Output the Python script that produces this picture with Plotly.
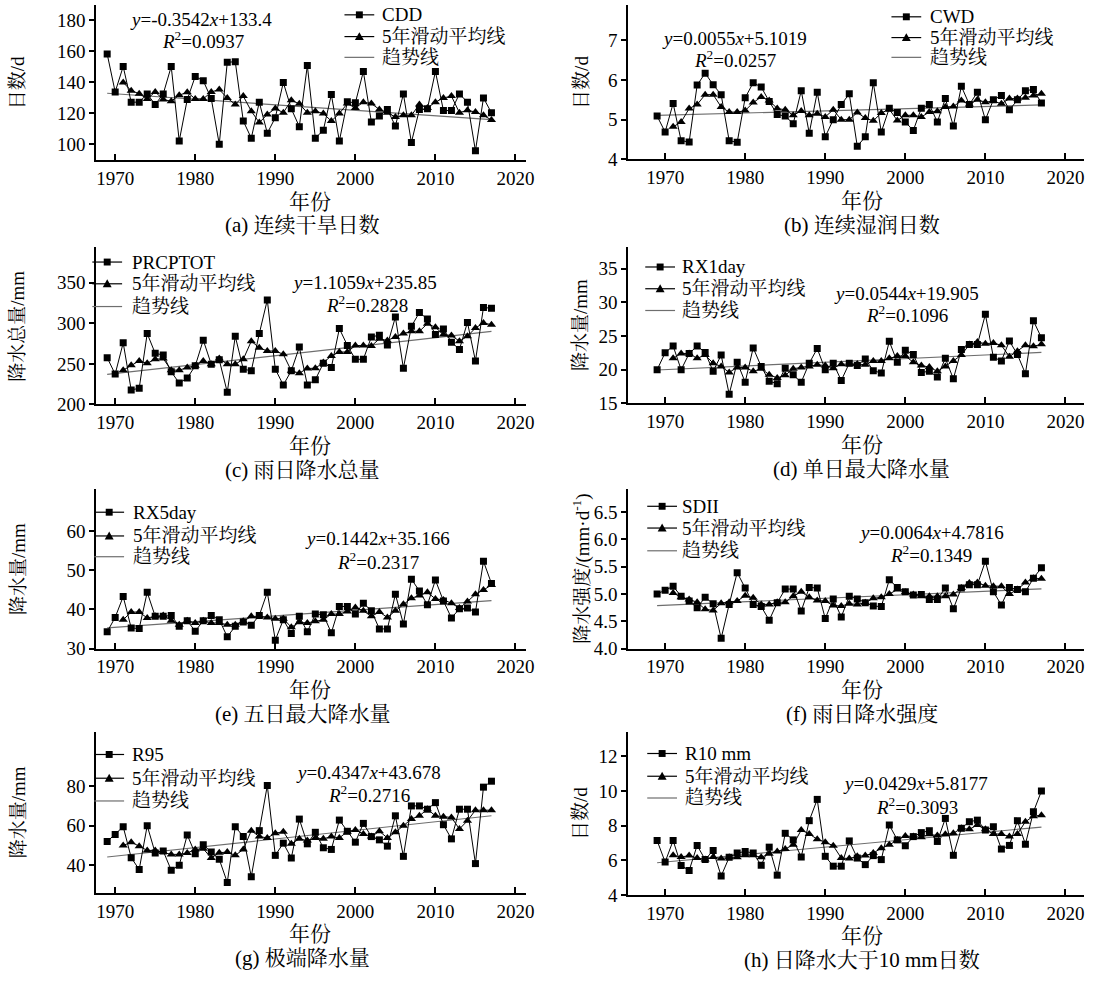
import plotly.graph_objects as go

years = list(range(1969, 2018))
ma_years = list(range(1971, 2018))
trend_years = [1969, 2017]

cdd = [158.4,133.9,150.3,127.3,127.3,132.6,125.8,132.6,150.3,102.3,129.0,143.9,141.1,129.6,100.2,153.0,153.4,115.1,104.1,127.3,107.3,117.3,140.0,123.0,111.5,150.9,104.1,109.2,132.2,102.3,127.5,126.9,147.1,114.5,118.3,122.6,111.9,132.6,101.3,122.6,123.0,147.1,121.9,121.9,132.6,127.3,95.9,130.0,120.5]
cdd_ma = [140.0,134.7,132.8,129.4,133.9,129.0,127.9,131.8,133.7,129.4,129.4,133.9,135.4,130.0,125.8,131.2,121.5,114.1,119.4,123.2,120.5,128.5,126.2,120.5,121.5,120.0,115.1,120.0,126.4,123.6,127.3,126.4,122.6,120.5,117.7,118.8,118.8,125.8,123.6,127.3,130.0,131.2,120.5,122.1,120.9,118.8,115.8]
cdd_trend = [133.05, 116.04]

cwd = [5.09,4.69,5.41,4.47,4.44,5.87,6.17,5.88,5.63,4.47,4.43,5.55,5.93,5.82,5.46,5.13,5.09,4.90,5.73,4.66,5.69,4.57,5.00,5.38,5.65,4.33,4.57,5.93,4.69,5.29,5.18,4.94,4.73,5.29,5.38,4.94,5.53,4.84,5.84,5.38,5.69,5.00,5.50,5.61,5.25,5.50,5.73,5.76,5.42]
cwd_ma = [4.82,4.94,5.28,5.38,5.63,5.63,5.32,5.19,5.19,5.23,5.43,5.57,5.48,5.28,5.25,5.11,5.22,5.11,5.15,5.07,5.25,5.00,5.00,5.18,5.04,4.97,5.17,5.26,4.98,5.11,5.11,5.07,5.19,5.21,5.32,5.33,5.48,5.38,5.50,5.44,5.47,5.40,5.53,5.53,5.55,5.61,5.65]
cwd_trend = [5.107, 5.371]

prcptot = [257.7,237.4,276.0,217.9,219.9,287.4,263.0,261.0,240.2,226.4,232.5,247.6,279.3,249.6,255.0,215.0,284.0,243.5,241.5,287.4,328.9,243.5,224.0,241.5,270.7,224.0,230.5,250.8,245.5,293.5,272.8,255.7,255.7,283.3,285.4,273.2,307.7,244.7,296.3,313.4,305.3,286.2,293.1,276.8,267.9,301.2,253.7,319.5,318.7]
prcptot_ma = [242.3,248.4,253.7,250.8,255.7,256.5,242.3,242.3,245.5,247.6,253.7,249.6,256.5,249.6,249.6,255.7,278.0,269.9,265.9,265.9,261.8,241.5,238.6,244.3,244.7,251.6,259.8,264.6,264.6,272.8,272.8,272.0,280.9,278.9,283.3,287.4,290.2,290.2,299.6,295.1,286.2,285.0,278.0,284.1,294.3,300.4,298.4]
prcptot_trend = [236.96, 290.04]

rx1day = [20.0,22.52,23.53,20.0,22.4,23.53,22.56,19.76,22.18,16.37,21.11,18.16,23.24,20.48,18.31,17.92,20.24,19.27,18.16,20.97,23.14,20.0,20.97,18.4,20.97,20.63,21.6,19.85,19.52,24.21,21.11,22.9,22.27,19.61,19.76,18.94,21.69,18.65,23.0,23.73,23.73,28.22,21.84,21.31,24.26,22.27,19.42,27.26,24.74]
rx1day_ma = [21.69,22.42,22.42,21.69,22.18,20.97,20.48,19.61,20.34,20.34,19.76,20.15,19.27,18.79,19.18,20.15,20.34,20.48,20.73,20.63,20.24,20.82,20.82,20.87,20.73,21.31,21.31,21.69,22.03,22.03,21.11,20.63,20.39,19.76,20.48,21.31,22.18,23.73,24.11,23.87,23.97,23.63,21.94,22.76,23.63,23.48,23.77]
rx1day_trend = [19.96, 22.57]

rx5day = [34.29,37.98,43.28,35.29,35.13,44.37,38.24,38.24,38.49,35.71,37.14,34.45,37.14,38.49,37.39,33.03,35.71,36.81,35.97,38.49,44.37,32.18,37.39,33.87,38.24,34.29,38.82,38.66,34.03,40.76,40.76,38.82,41.6,39.66,35.04,35.04,43.87,36.3,47.73,44.71,41.18,47.48,42.18,37.82,40.17,40.34,39.33,52.27,46.64]
rx5day_ma = [37.39,39.33,39.33,37.82,38.24,38.49,37.14,36.13,37.14,36.55,37.14,36.55,36.55,36.13,36.13,36.97,38.24,38.24,37.98,37.65,37.65,35.46,36.72,36.55,36.97,37.39,38.82,38.82,39.5,40.5,39.66,38.24,39.33,37.98,39.66,41.34,42.86,43.53,44.37,42.69,42.44,41.6,40.34,42.02,43.87,44.96,46.22]
rx5day_trend = [35.31, 42.23]

sdii = [5.0,5.07,5.14,4.96,4.87,4.75,4.94,4.82,4.19,4.81,5.39,5.11,4.81,4.77,4.52,4.84,5.09,5.09,4.69,5.12,5.11,4.55,4.91,4.58,4.96,4.91,4.84,4.78,4.77,5.26,5.12,5.04,4.98,4.99,4.9,4.9,5.11,4.73,5.11,5.17,5.17,5.6,5.04,4.8,5.12,5.08,5.04,5.29,5.48]
sdii_ma = [5.02,4.94,4.9,4.85,4.72,4.7,4.83,4.85,4.87,4.97,4.93,4.81,4.81,4.85,4.85,4.96,5.04,4.94,4.88,4.87,4.79,4.78,4.82,4.81,4.84,4.92,4.94,5.0,5.08,5.03,4.99,4.96,4.96,4.96,4.96,4.99,5.11,5.2,5.21,5.15,5.14,5.14,5.0,5.08,5.21,5.29,5.28]
sdii_trend = [4.788, 5.095]

r95 = [51.94,55.44,59.44,43.78,37.78,59.94,46.11,47.11,37.44,39.94,55.28,45.78,50.28,46.61,42.94,31.28,59.44,54.44,34.11,57.44,80.28,44.94,51.11,43.61,63.28,50.78,56.61,48.78,47.94,62.78,57.11,51.61,61.11,54.44,52.78,49.61,64.94,44.44,69.94,69.94,68.28,71.61,60.44,53.28,68.28,68.28,40.78,79.44,82.44]
r95_ma = [49.94,51.61,49.61,47.44,47.44,46.61,45.44,45.44,46.11,47.94,48.28,43.61,46.28,46.61,44.94,47.94,57.44,54.44,53.78,56.11,56.94,50.78,53.28,52.44,53.78,53.28,54.44,53.78,56.94,57.78,55.78,54.44,57.11,53.78,56.61,59.94,63.28,64.94,68.28,64.94,64.44,64.11,58.28,62.44,67.78,67.78,67.78]
r95_trend = [44.11, 64.98]

r10mm = [7.14,5.9,7.14,5.7,5.41,6.86,6.04,6.57,5.09,6.17,6.42,6.51,6.42,5.71,6.76,5.14,7.56,7.18,6.19,8.29,9.52,6.23,5.66,5.66,7.12,6.13,5.75,6.27,6.04,8.04,7.18,6.84,7.37,7.6,7.71,7.09,8.42,6.29,7.85,8.23,8.32,7.75,7.94,6.65,6.86,8.29,6.93,8.8,10.0]
r10mm_ma = [6.29,6.19,6.27,6.13,6.04,6.19,6.1,6.17,6.17,6.29,6.29,6.17,6.38,6.51,6.65,6.9,7.75,7.52,7.22,7.05,6.84,6.13,6.1,6.23,6.27,6.42,6.7,6.9,7.18,7.41,7.37,7.33,7.5,7.43,7.5,7.56,7.85,7.79,8.04,7.79,7.52,7.52,7.37,7.52,8.23,8.55,8.61]
r10mm_trend = [5.86, 7.92]

x_ticks = [1970, 1980, 1990, 2000, 2010, 2020]
ma_label = "5年滑动平均线"
trend_label = "趋势线"

W, H = 1095, 986
SERIF = "'Liberation Serif', 'Times New Roman', 'Noto Serif CJK SC', 'Noto Sans CJK SC', serif"
TREND_COLOR = "#6e6e6e"

def px(p):
    return p / W

def py(p):
    return 1 - p / H

cols = [
    (97, 530, [1967.64, 2021.33]),
    (633, 1092, [1965.41, 2022.32]),
]

panels = [
    dict(name="CDD", d=cdd, ma=cdd_ma, tr=cdd_trend, col=0, ydom=(5, 161.8), yr=[90, 190],
         yt=[100, 120, 140, 160, 180], fmt="", ytitle="日数/d",
         eq="<i>y</i>=-0.3542<i>x</i>+133.4", r2="<i>R</i><sup>2</sup>=0.0937",
         eqp=(202, 20), r2p=(204, 40), leg=(347, 383, [15, 37, 58]), cap="(a) 连续干旱日数"),
    dict(name="CWD", d=cwd, ma=cwd_ma, tr=cwd_trend, col=1, ydom=(5, 161.2), yr=[4, 7.888],
         yt=[4, 5, 6, 7], fmt="", ytitle="日数/d",
         eq="<i>y</i>=0.0055<i>x</i>+5.1019", r2="<i>R</i><sup>2</sup>=0.0257",
         eqp=(740, 39), r2p=(740, 60), leg=(898, 935, [17, 38, 58]), cap="(b) 连续湿润日数"),
    dict(name="PRCPTOT", d=prcptot, ma=prcptot_ma, tr=prcptot_trend, col=0, ydom=(250, 409), yr=[200, 393.9],
         yt=[200, 250, 300, 350], fmt="", ytitle="降水总量/mm",
         eq="<i>y</i>=1.1059<i>x</i>+235.85", r2="<i>R</i><sup>2</sup>=0.2828",
         eqp=(367, 286), r2p=(370, 307), leg=(93, 131, [265, 287, 310]), cap="(c) 雨日降水总量"),
    dict(name="RX1day", d=rx1day, ma=rx1day_ma, tr=rx1day_trend, col=1, ydom=(250, 408), yr=[15, 38.18],
         yt=[15, 20, 25, 30, 35], fmt="", ytitle="降水量/mm",
         eq="<i>y</i>=0.0544<i>x</i>+19.905", r2="<i>R</i><sup>2</sup>=0.1096",
         eqp=(913, 297), r2p=(914, 318), leg=(650, 685, [270, 292, 314]), cap="(d) 单日最大降水量"),
    dict(name="RX5day", d=rx5day, ma=rx5day_ma, tr=rx5day_trend, col=0, ydom=(495, 656), yr=[30, 70.58],
         yt=[30, 40, 50, 60], fmt="", ytitle="降水量/mm",
         eq="<i>y</i>=0.1442<i>x</i>+35.166", r2="<i>R</i><sup>2</sup>=0.2317",
         eqp=(380, 545), r2p=(381, 567), leg=(95, 132, [518, 542, 563]), cap="(e) 五日最大降水量"),
    dict(name="SDII", d=sdii, ma=sdii_ma, tr=sdii_trend, col=1, ydom=(495, 656), yr=[4.0, 6.911],
         yt=[4.0, 4.5, 5.0, 5.5, 6.0, 6.5], fmt=".1f", ytitle="降水强度/(mm·d<sup>-1</sup>)",
         eq="<i>y</i>=0.0064<i>x</i>+4.7816", r2="<i>R</i><sup>2</sup>=0.1349",
         eqp=(938, 539), r2p=(938, 560), leg=(652, 685, [512, 534, 557]), cap="(f) 雨日降水强度"),
    dict(name="R95", d=r95, ma=r95_ma, tr=r95_trend, col=0, ydom=(740, 903), yr=[25.95, 107.45],
         yt=[40, 60, 80], fmt="", ytitle="降水量/mm",
         eq="<i>y</i>=0.4347<i>x</i>+43.678", r2="<i>R</i><sup>2</sup>=0.2716",
         eqp=(371, 781), r2p=(372, 803), leg=(95, 131, [763, 787, 810]), cap="(g) 极端降水量"),
    dict(name="R10 mm", d=r10mm, ma=r10mm_ma, tr=r10mm_trend, col=1, ydom=(740, 905), yr=[4, 13.43],
         yt=[4, 6, 8, 10, 12], fmt="", ytitle="日数/d",
         eq="<i>y</i>=0.0429<i>x</i>+5.8177", r2="<i>R</i><sup>2</sup>=0.3093",
         eqp=(922, 792), r2p=(924, 815), leg=(652, 688, [762, 785, 807]), cap="(h) 日降水大于10 mm日数"),
]

fig = go.Figure()
layout = dict(
    width=W, height=H, margin=dict(l=0, r=0, t=0, b=0),
    paper_bgcolor="white", plot_bgcolor="white",
    font=dict(family=SERIF, size=18, color="black"),
    showlegend=False,
)
annotations = []
shapes = []

def ann(x, y, text, size, xanchor="center", angle=0):
    annotations.append(dict(x=px(x), y=py(y), xref="paper", yref="paper", text=text,
                            showarrow=False, font=dict(family=SERIF, size=size, color="black"),
                            xanchor=xanchor, yanchor="middle", textangle=angle))

for i, p in enumerate(panels, start=1):
    xa = "x" if i == 1 else f"x{i}"
    ya = "y" if i == 1 else f"y{i}"
    left, right, xr = cols[p["col"]]
    fig.add_trace(go.Scatter(x=trend_years, y=p["tr"], mode="lines", name=trend_label,
                             line=dict(color=TREND_COLOR, width=1.2), xaxis=xa, yaxis=ya,
                             hoverinfo="skip"))
    fig.add_trace(go.Scatter(x=ma_years, y=p["ma"], mode="lines+markers", name=ma_label,
                             line=dict(color="black", width=1),
                             marker=dict(symbol="triangle-up", size=8, color="black"),
                             xaxis=xa, yaxis=ya))
    fig.add_trace(go.Scatter(x=years, y=p["d"], mode="lines+markers", name=p["name"],
                             line=dict(color="black", width=1),
                             marker=dict(symbol="square", size=7, color="black"),
                             xaxis=xa, yaxis=ya))

    y0, y1 = p["ydom"]
    layout["xaxis" if i == 1 else f"xaxis{i}"] = dict(
        domain=[px(left), px(right)], anchor=ya, range=xr,
        tickvals=x_ticks, ticks="inside", ticklen=6, tickwidth=1.5, tickcolor="black",
        showline=True, linewidth=2, linecolor="black", showgrid=False, zeroline=False,
        tickfont=dict(family=SERIF, size=19),
    )
    layout["yaxis" if i == 1 else f"yaxis{i}"] = dict(
        domain=[py(y1), py(y0)], anchor=xa, range=p["yr"],
        tickvals=p["yt"], tickformat=p["fmt"], ticks="outside", ticklen=5, tickwidth=1.5,
        tickcolor="black", showline=True, linewidth=2, linecolor="black",
        showgrid=False, zeroline=False, tickfont=dict(family=SERIF, size=19),
    )

    # key: line + marker + label for each of the three series
    sx, tx, rows = p["leg"]
    labels = [p["name"], ma_label, trend_label]
    for k, ry in enumerate(rows):
        color = TREND_COLOR if k == 2 else "black"
        shapes.append(dict(type="line", xref="paper", yref="paper",
                           x0=px(sx), x1=px(sx + 30), y0=py(ry), y1=py(ry),
                           line=dict(color=color, width=1.2)))
        cx = sx + 15
        if k == 0:
            shapes.append(dict(type="rect", xref="paper", yref="paper",
                               x0=px(cx - 3.5), x1=px(cx + 3.5), y0=py(ry + 3.5), y1=py(ry - 3.5),
                               fillcolor="black", line=dict(width=0)))
        elif k == 1:
            path = (f"M {px(cx - 4.5)},{py(ry + 3.5)} L {px(cx + 4.5)},{py(ry + 3.5)} "
                    f"L {px(cx)},{py(ry - 4.5)} Z")
            shapes.append(dict(type="path", xref="paper", yref="paper", path=path,
                               fillcolor="black", line=dict(width=0)))
        ann(tx, ry, labels[k], 19, xanchor="left")

    ann(p["eqp"][0], p["eqp"][1], p["eq"], 19)
    ann(p["r2p"][0], p["r2p"][1], p["r2"], 19)
    ann(18 if p["col"] == 0 else 585, (y0 + y1) / 2, p["ytitle"], 19, angle=-90)
    cxx = 312 if p["col"] == 0 else 868
    ccap = 305 if p["col"] == 0 else 868
    ann(cxx, y1 + 42, "年份", 21)
    ann(ccap, y1 + 66, p["cap"], 21)

layout["annotations"] = annotations
layout["shapes"] = shapes
fig.update_layout(**layout)
fig.write_html("out.html", config={"displayModeBar": False},
               post_script="document.body.style.margin='0';document.body.style.padding='0';"
                           "document.body.style.overflow='hidden';")
